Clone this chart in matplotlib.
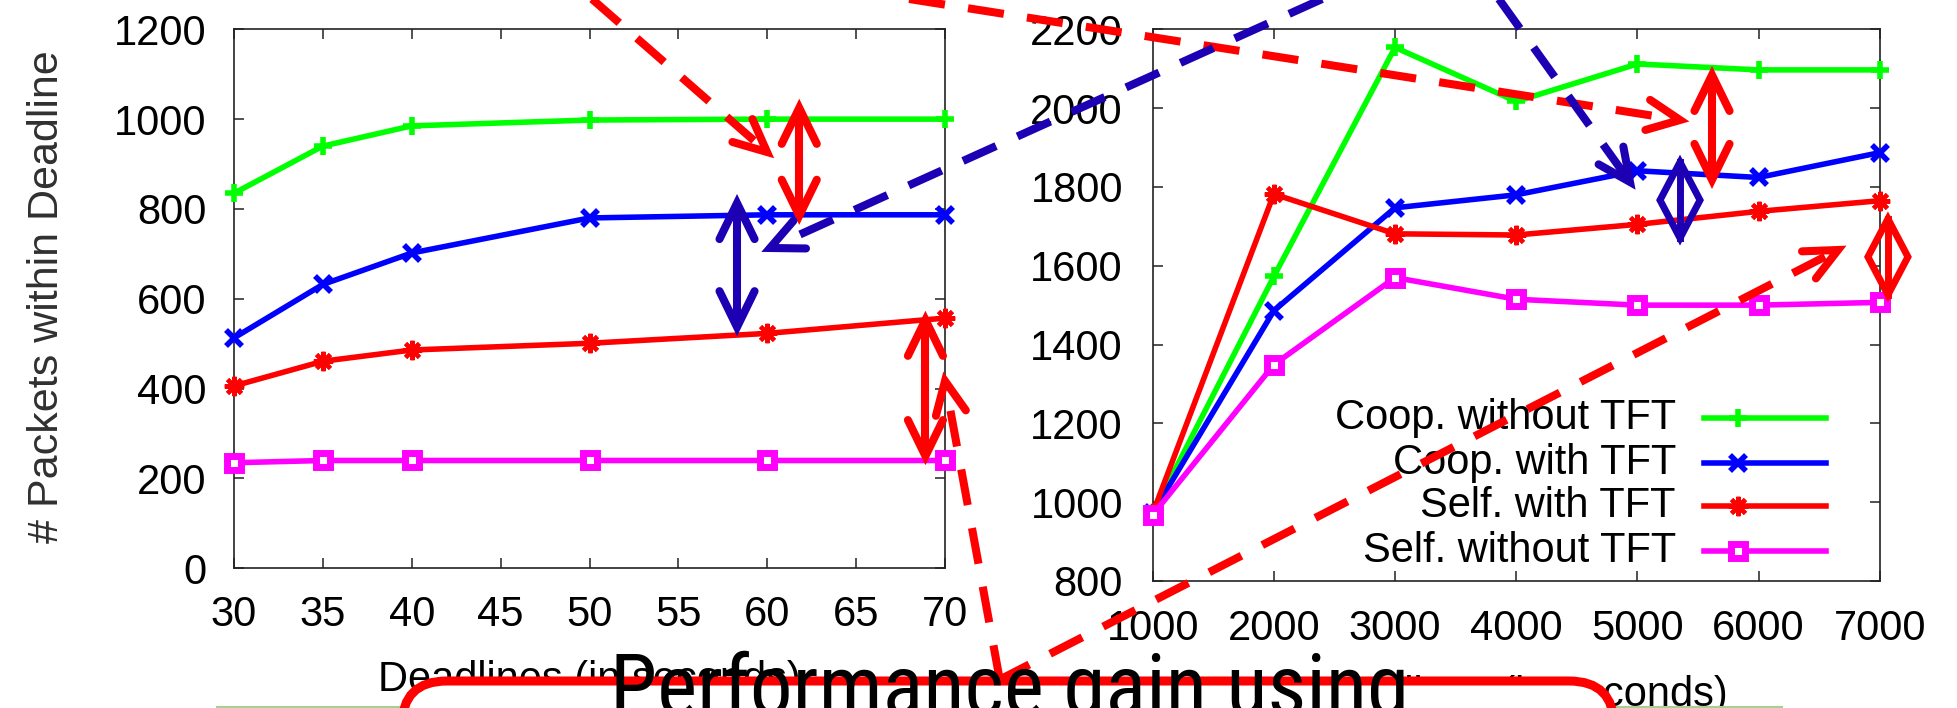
import numpy as np
import matplotlib
matplotlib.use("Agg")
from matplotlib import pyplot as plt
from matplotlib import font_manager
from matplotlib.patches import FancyBboxPatch, Polygon

# ---- data ----
deadlines = [30, 35, 40, 50, 60, 70]
left_coop_no_tft = [835, 940, 985, 998, 1000, 1000]
left_coop_tft = [513, 632, 702, 780, 787, 787]
left_self_tft = [406, 461, 486, 501, 523, 557]
left_self_no_tft = [235, 240, 240, 240, 240, 240]

right_x = [1000, 2000, 3000, 4000, 5000, 6000, 7000]
right_coop_no_tft = [972, 1573, 2154, 2017, 2112, 2097, 2097]
right_coop_tft = [972, 1486, 1747, 1780, 1841, 1824, 1887]
right_self_tft = [972, 1782, 1681, 1678, 1705, 1738, 1765]
right_self_no_tft = [968, 1349, 1570, 1515, 1500, 1500, 1507]

series_labels = ["Coop. without TFT", "Coop. with TFT", "Self. with TFT", "Self. without TFT"]
left_xticks = [30, 35, 40, 45, 50, 55, 60, 65, 70]
left_yticks = [0, 200, 400, 600, 800, 1000, 1200]
right_xticks = [1000, 2000, 3000, 4000, 5000, 6000, 7000]
right_yticks = [800, 1000, 1200, 1400, 1600, 1800, 2000, 2200]

# ---- styles ----
W, H = 1957, 708
RED = "#ff0000"
DBLUE = "#1e00b4"
colors = ["#00ff00", "#0000ff", "#ff0000", "#ff00ff"]
marker_kw = [
    dict(marker="+", ms=13, mew=4),
    dict(marker="x", ms=12, mew=4),
    dict(marker=(8, 2, 0), ms=14, mew=3),
    dict(marker="s", ms=10.5, mew=5, mfc="white"),
]

plt.rcParams["font.family"] = ["Liberation Sans", "DejaVu Sans"]

fig = plt.figure(figsize=(W / 100, H / 100), dpi=100)
ax1 = fig.add_axes([234 / W, 1 - 568.3 / H, 711 / W, 539 / H])
ax2 = fig.add_axes([1152.7 / W, 1 - 581 / H, 727 / W, 551.7 / H])


def style_axes(ax, xticks, yticks, xpad, ypad):
    ax.set_xticks(xticks)
    ax.set_yticks(yticks)
    ax.set_xlim(xticks[0], xticks[-1])
    ax.set_ylim(yticks[0], yticks[-1])
    ax.tick_params(axis="both", direction="in", length=7, width=1.1,
                   top=True, right=True, labelsize=30, color="#222222")
    ax.tick_params(axis="x", pad=xpad)
    ax.tick_params(axis="y", pad=ypad)
    for sp in ax.spines.values():
        sp.set_linewidth(1.2)
        sp.set_color("#222222")


left_series = [left_coop_no_tft, left_coop_tft, left_self_tft, left_self_no_tft]
right_series = [right_coop_no_tft, right_coop_tft, right_self_tft, right_self_no_tft]

for ys, c, mk in zip(left_series, colors, marker_kw):
    ax1.plot(deadlines, ys, color=c, lw=4, mec=c, clip_on=False, zorder=3, **mk)
for ys, c, mk in zip(right_series, colors, marker_kw):
    ax2.plot(right_x, ys, color=c, lw=4, mec=c, clip_on=False, zorder=3, **mk)

style_axes(ax1, left_xticks, left_yticks, 19.4, 20)
style_axes(ax2, right_xticks, right_yticks, 20.5, 21.4)

ax1.set_xlabel("Deadlines (in seconds)", fontsize=30)
ax1.xaxis.set_label_coords(0.5, -0.170)
ax2.set_xlabel("Deadlines (in seconds)", fontsize=30)
ax2.xaxis.set_label_coords(0.5, -0.170)
fig.text(47 / W, 1 - 297 / H, "# Packets within Deadline", rotation=90,
         ha="center", va="center", fontsize=31, color="#303030")

# gnuplot style key: text right aligned, sample line to the right
key_rows = [0.2955, 0.2139, 0.1359, 0.0544]
for lab, c, mk, yk in zip(series_labels, colors, marker_kw, key_rows):
    ax2.text(0.7198, yk, lab, transform=ax2.transAxes, ha="right", va="center",
             fontsize=30, zorder=4)
    ax2.plot([0.7590, 0.9261], [yk, yk], transform=ax2.transAxes, color=c,
             lw=4, clip_on=False, zorder=4)
    ax2.plot([0.8054], [yk], transform=ax2.transAxes, color=c, lw=0, mec=c,
             clip_on=False, zorder=4, **mk)

# ---- overlay in figure pixels (origin top left) ----
ov = fig.add_axes([0, 0, 1, 1], zorder=10)
ov.set_xlim(0, W)
ov.set_ylim(H, 0)
ov.axis("off")
ov.patch.set_visible(False)


def to_px(ax, x, y):
    dx, dy = ax.transData.transform((x, y))
    return dx, H - dy


def v_head(tip, back, length, half_angle, color, lw, z):
    d = np.array(back, float) - np.array(tip, float)
    d /= np.hypot(*d)
    pts = []
    for s in (1, -1):
        a = np.radians(half_angle) * s
        r = np.array([d[0] * np.cos(a) - d[1] * np.sin(a),
                      d[0] * np.sin(a) + d[1] * np.cos(a)])
        pts.append(np.array(tip) + r * length)
    xs = [pts[0][0], tip[0], pts[1][0]]
    ys = [pts[0][1], tip[1], pts[1][1]]
    ov.plot(xs, ys, color=color, lw=lw, solid_capstyle="round",
            solid_joinstyle="miter", zorder=z)


def double_arrow(ax, x, y0, y1, color):
    p0 = to_px(ax, x, y0)
    p1 = to_px(ax, x, y1)
    ov.plot([p0[0], p1[0]], [p0[1], p1[1]], color=color, lw=5.8,
            solid_capstyle="butt", zorder=6)
    v_head(p0, p1, 40, 26, color, 5.8, 6)
    v_head(p1, p0, 40, 26, color, 5.8, 6)


def diamond_arrow(ax, x, y0, y1, color):
    p0 = to_px(ax, x, y0)
    p1 = to_px(ax, x, y1)
    ym = (p0[1] + p1[1]) / 2
    poly = Polygon([p0, (p0[0] + 20, ym), p1, (p0[0] - 20, ym)], closed=True,
                   fill=False, ec=color, lw=5, joinstyle="miter", zorder=6)
    ov.add_patch(poly)
    ov.plot([p0[0], p1[0]], [p0[1], p1[1]], color=color, lw=5, zorder=6)


double_arrow(ax1, 61.8, 1025, 785, RED)
double_arrow(ax1, 58.3, 813, 537, DBLUE)
double_arrow(ax1, 68.9, 553, 250, RED)
double_arrow(ax2, 5616, 2084, 1818, RED)
diamond_arrow(ax2, 5352, 1863, 1670, DBLUE)
diamond_arrow(ax2, 7068, 1719, 1526, RED)

# dashed connectors: (start, tip, colour)
connectors = [
    ((584, -8), (767, 152), RED),
    ((890, -4), (1680, 120), RED),
    ((1496, -5), (1630, 182), DBLUE),
    ((1331, -5), (770, 248), DBLUE),
    ((997, 681), (1838, 250), RED),
    ((1000, 681), (945, 381), RED),
]
for start, tip, c in connectors:
    ov.plot([start[0], tip[0]], [start[1], tip[1]], color=c, lw=5.8,
            linestyle=(0, (4.5, 2.9)), zorder=7)
    v_head(tip, start, 36, 25, c, 5.8, 7)

# slide elements at the bottom
ov.plot([217, 1782], [707, 707], color="#a6cf98", lw=1.5, zorder=1)
box = FancyBboxPatch((402, 681), 1212, 160, boxstyle="round,pad=0,rounding_size=45",
                     ec=RED, fc="white", lw=6.5, zorder=3)
ov.add_patch(box)


def pick_family(names):
    for n in names:
        try:
            font_manager.findfont(font_manager.FontProperties(family=n),
                                  fallback_to_default=False)
            return n
        except ValueError:
            pass
    return "DejaVu Sans"


fam = pick_family(["Roboto Condensed", "Liberation Sans Narrow", "DejaVu Sans"])
title = ov.text(1010, 700, "Performance gain using", ha="center", va="baseline",
                fontsize=50, family=fam, color="black", zorder=8)
fig.canvas.draw()
w = title.get_window_extent().width
size = 50 * 800 / w
title.set_fontsize(size)
title.set_y(655 + 0.71 * size * 100 / 72)

fig.savefig("out.png", dpi=100)
